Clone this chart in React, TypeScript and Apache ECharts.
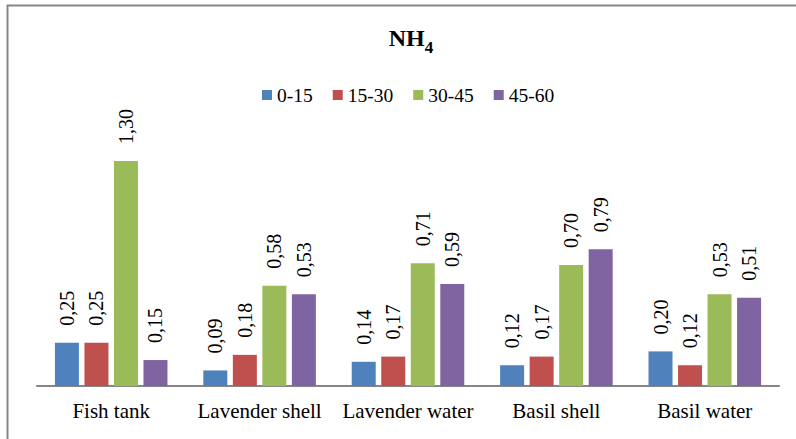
import React, { useEffect, useRef } from "react";
import * as echarts from "echarts";

const categories = ["Fish tank", "Lavender shell", "Lavender water", "Basil shell", "Basil water"];
const seriesNames = ["0-15", "15-30", "30-45", "45-60"];
const colors = ["#4F81BD", "#C0504D", "#9BBB59", "#8064A2"];
const s0_15 = [0.25, 0.09, 0.14, 0.12, 0.2];
const s15_30 = [0.25, 0.18, 0.17, 0.17, 0.12];
const s30_45 = [1.3, 0.58, 0.71, 0.7, 0.53];
const s45_60 = [0.15, 0.53, 0.59, 0.79, 0.51];
const seriesData = [s0_15, s15_30, s30_45, s45_60];

const FONT = "Times New Roman, Liberation Serif, serif";

export default function App() {
  const ref = useRef<HTMLDivElement>(null);
  useEffect(() => {
    if (!ref.current) return;
    const chart = echarts.init(ref.current, null, { renderer: "svg" });
    chart.setOption({
      animation: false,
      backgroundColor: "#ffffff",
      textStyle: { fontFamily: FONT },
      title: {
        text: "{a|NH}{b|4}",
        left: 406,
        textAlign: "center",
        top: 17,
        textStyle: {
          fontFamily: FONT,
          rich: {
            a: { fontFamily: FONT, fontWeight: "bold", fontSize: 24, color: "#000", verticalAlign: "bottom", lineHeight: 28 },
            b: { fontFamily: FONT, fontWeight: "bold", fontSize: 17, color: "#000", verticalAlign: "bottom", lineHeight: 20, padding: [0, 0, -6, 0] },
          },
        },
      },
      legend: {
        data: seriesNames,
        left: 257,
        top: 80,
        itemWidth: 10,
        itemHeight: 10,
        itemGap: 20,
        icon: "rect",
        textStyle: { fontFamily: FONT, fontSize: 19.5, color: "#000" },
      },
      graphic: [
        {
          type: "rect",
          shape: { x: 7.5, y: 5.5, width: 820, height: 460 },
          style: { fill: "none", stroke: "#868686", lineWidth: 2 },
          silent: true,
        },
      ],
      grid: { left: 37, right: 17, top: 386 - 173 * 1.4, bottom: 53, containLabel: false },
      xAxis: {
        type: "category",
        data: categories,
        axisLine: { lineStyle: { color: "#868686", width: 2 } },
        axisTick: { show: false },
        axisLabel: { interval: 0, fontFamily: FONT, fontSize: 21, color: "#000", margin: 14 },
      },
      yAxis: {
        type: "value",
        min: 0,
        max: 1.4,
        show: false,
        splitLine: { show: false },
      },
      series: seriesNames.map((name, i) => ({
        name,
        type: "bar",
        data: seriesData[i],
        barWidth: 24,
        barGap: "23%",
        itemStyle: { color: colors[i] },
        label: {
          show: true,
          position: "top",
          rotate: 90,
          align: "left",
          verticalAlign: "middle",
          distance: 17,
          fontFamily: FONT,
          fontSize: 20,
          color: "#000",
          formatter: (p: any) => Number(p.value).toFixed(2).replace(".", ","),
        },
      })),
    });
    return () => chart.dispose();
  }, []);
  return <div ref={ref} style={{ position: "fixed", left: 0, top: 0, width: 796, height: 439 }} />;
}
